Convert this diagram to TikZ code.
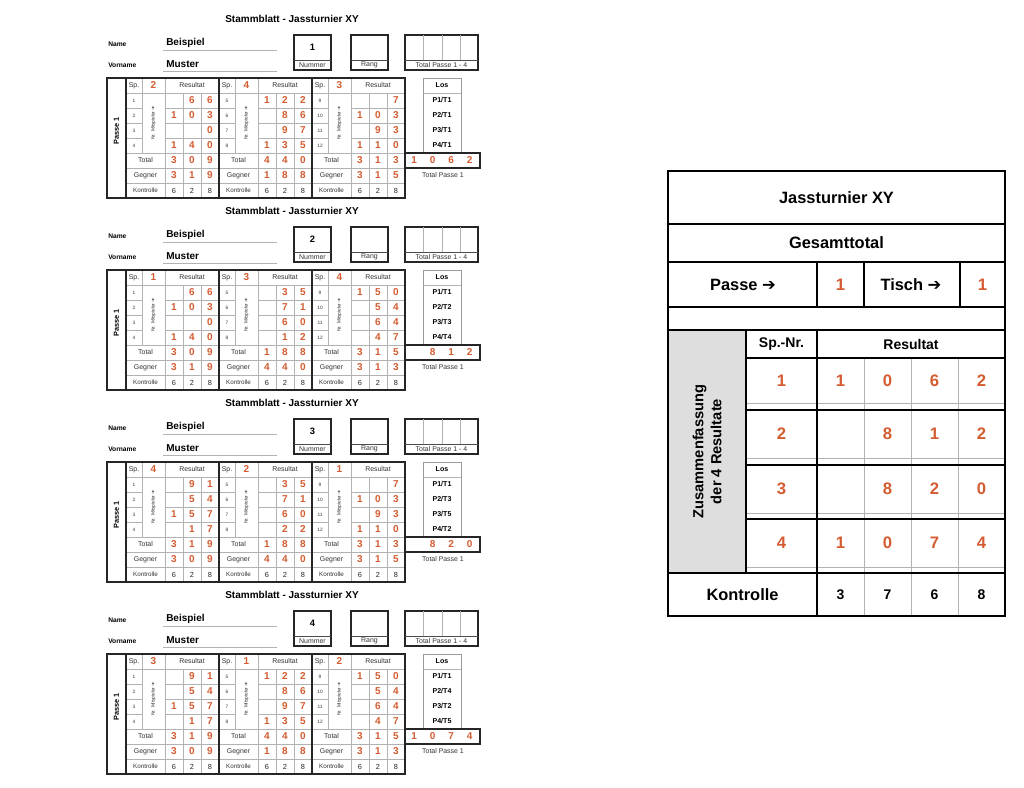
\documentclass[tikz,border=0pt]{standalone}
\usepackage{fontspec}
\setmainfont{Liberation Sans}
\newfontfamily\arrowfont{DejaVu Sans}
\definecolor{jassred}{RGB}{212,92,48}
\definecolor{gridgray}{RGB}{178,178,178}
\definecolor{cellgray}{RGB}{222,222,222}
\newcommand\fs[1]{\fontsize{#1}{#1}\selectfont}
\newcommand\pfeil{{\arrowfont\mdseries ➔}}

\tikzset{
  frame/.style={line width=0.9pt, black!85},
  sub/.style={line width=0.6pt, black!70},
  thinline/.style={line width=0.35pt, gridgray},
  underline/.style={line width=0.4pt, gray!60},
  losbox/.style={line width=0.6pt, gray!80},
  res/.style={inner sep=0pt, text=jassred, font=\bfseries\fs{7.5}},
  kdig/.style={inner sep=0pt, text=black!85, font=\fs{5.5}},
  lbl/.style={inner sep=0pt, text=black!80, font=\fs{5.2}},
  tinylbl/.style={inner sep=0pt, text=black!80, font=\fs{3.6}},
  losl/.style={inner sep=0pt, font=\bfseries\fs{5.3}},
  titel/.style={inner sep=0pt, font=\bfseries\fs{7.5}},
  namelbl/.style={inner sep=0pt, anchor=west, font=\bfseries\fs{5}},
  nameval/.style={inner sep=0pt, anchor=west, font=\bfseries\fs{7.5}},
  nrval/.style={inner sep=0pt, font=\bfseries\fs{7}},
  passel/.style={inner sep=0pt, font=\bfseries\fs{5.5}},
  bigtxt/.style={inner sep=0pt, font=\bfseries\fs{12.3}},
  midtxt/.style={inner sep=0pt, font=\bfseries\fs{10.5}},
  bigres/.style={inner sep=0pt, text=jassred, font=\bfseries\fs{12.5}},
}

% Kopf eines Stammblatts
\newcommand\kopf[4]{%
  \node[titel] (titel#1) at (292,19) {Stammblatt - Jassturnier XY};
  \node[namelbl] (name#1) at (108,44) {Name};
  \node[nameval] (bsp#1) at (166,43) {Beispiel};
  \draw[underline] (163,50) -- (277,50);
  \node[namelbl] (vname#1) at (108,65) {Vorname};
  \node[nameval] (mst#1) at (166,64) {Muster};
  \draw[underline] (163,71) -- (277,71);
  \draw[frame] (294,35) rectangle (331,70);
  \draw[sub] (294,60) -- (331,60);
  \node[nrval] (nr#1) at (312.5,47.5) {#2};
  \node[lbl] (nrl#1) at (312.5,65) {Nummer};
  \draw[frame] (351,35) rectangle (388,70);
  \draw[sub] (351,60) -- (388,60);
  \node[lbl] (rang#1) at (369.5,65) {Rang};
  \draw[frame] (405,35) rectangle (478,70);
  \draw[sub] (405,60) -- (478,60);
  \foreach \x in {423,442,460} \draw[thinline] (\x,35) -- (\x,60);
  \node[lbl] (tpv#1) at (441.5,65) {Total Passe 1 - 4};
  \draw[losbox] (423,78) rectangle (461,153);
  \draw[thinline] (423,93) -- (461,93);
  \node[losl] (los#1) at (442,85.5) {Los};
  \foreach \t [count=\r] in {#3}
    \node[losl] (los#1\r) at (442,85.5+15*\r) {P\r/T\t};
  \foreach \d [count=\i] in {#4}
    \node[res] (tot#1\i) at (395.75+18.5*\i,160.5) {\d};
  \node[lbl] (tpl#1) at (443,175.5) {Total Passe 1};
  \node[passel, rotate=90] (passe#1) at (116.5,131) {Passe 1};
}

% ein Spieler-Abschnitt: Block, Abschnitt, Sp., Zeilen, Total, Gegner
\newcommand\sektion[6]{%
  \pgfmathsetmacro\xo{126+93*#2}
  \draw[thinline] (\xo,93) -- (\xo+93,93)
    (\xo,153) -- (\xo+93,153) (\xo,168) -- (\xo+93,168) (\xo,183) -- (\xo+93,183);
  \foreach \y in {108,123,138}
    \draw[thinline] (\xo,\y) -- (\xo+16,\y) (\xo+39,\y) -- (\xo+93,\y);
  \draw[thinline] (\xo+16,78) -- (\xo+16,153) (\xo+39,78) -- (\xo+39,198)
    (\xo+57,93) -- (\xo+57,198) (\xo+75,93) -- (\xo+75,198);
  \node[lbl] (sp#1#2) at (\xo+8,85.5) {Sp.};
  \node[res] (spn#1#2) at (\xo+27.5,85.5) {#3};
  \node[lbl] (rs#1#2) at (\xo+66,85.5) {Resultat};
  \node[tinylbl, rotate=90] (ms#1#2) at (\xo+27.5,123) {Nr. Mitspieler \pfeil};
  \foreach \row [count=\r] in {#4} {
    \pgfmathtruncatemacro\nr{4*#2+\r}
    \node[tinylbl] (z#1#2\r) at (\xo+8,85.5+15*\r) {\nr};
    \foreach \d [count=\i] in \row
      \node[res] (d#1#2\r\i) at (\xo+30+18*\i,85.5+15*\r) {\d};
  }
  \node[lbl] (tl#1#2) at (\xo+19.5,160.5) {Total};
  \node[lbl] (gl#1#2) at (\xo+19.5,175.5) {Gegner};
  \node[lbl, font=\fs{4.7}] (kl#1#2) at (\xo+19.5,190.5) {Kontrolle};
  \foreach \d [count=\i] in {#5}
    \node[res] (t#1#2\i) at (\xo+30+18*\i,160.5) {\d};
  \foreach \d [count=\i] in {#6}
    \node[res] (g#1#2\i) at (\xo+30+18*\i,175.5) {\d};
  \foreach \d [count=\i] in {6,2,8}
    \node[kdig] (k#1#2\i) at (\xo+30+18*\i,190.5) {\d};
}

\newcommand\rahmen{%
  \draw[frame] (107,78) rectangle (405,198);
  \draw[frame] (126,78) -- (126,198) (219,78) -- (219,198) (312,78) -- (312,198);
  \draw[frame] (405,153) rectangle (480,168);
}

\begin{document}
\begin{tikzpicture}[x=0.75pt, y=-0.75pt]
\fill[white] (0,0) rectangle (1024,788);
\useasboundingbox (0,0) rectangle (1024,788);

\begin{scope}[shift={(0,0)}]
  \kopf{0}{1}{1,1,1,1}{1,0,6,2}
  \sektion{0}{0}{2}{{{},6,6},{1,0,3},{{},{},0},{1,4,0}}{3,0,9}{3,1,9}
  \sektion{0}{1}{4}{{1,2,2},{{},8,6},{{},9,7},{1,3,5}}{4,4,0}{1,8,8}
  \sektion{0}{2}{3}{{{},{},7},{1,0,3},{{},9,3},{1,1,0}}{3,1,3}{3,1,5}
  \rahmen
\end{scope}

\begin{scope}[shift={(0,192)}]
  \kopf{1}{2}{1,2,3,4}{{},8,1,2}
  \sektion{1}{0}{1}{{{},6,6},{1,0,3},{{},{},0},{1,4,0}}{3,0,9}{3,1,9}
  \sektion{1}{1}{3}{{{},3,5},{{},7,1},{{},6,0},{{},1,2}}{1,8,8}{4,4,0}
  \sektion{1}{2}{4}{{1,5,0},{{},5,4},{{},6,4},{{},4,7}}{3,1,5}{3,1,3}
  \rahmen
\end{scope}

\begin{scope}[shift={(0,384)}]
  \kopf{2}{3}{1,3,5,2}{{},8,2,0}
  \sektion{2}{0}{4}{{{},9,1},{{},5,4},{1,5,7},{{},1,7}}{3,1,9}{3,0,9}
  \sektion{2}{1}{2}{{{},3,5},{{},7,1},{{},6,0},{{},2,2}}{1,8,8}{4,4,0}
  \sektion{2}{2}{1}{{{},{},7},{1,0,3},{{},9,3},{1,1,0}}{3,1,3}{3,1,5}
  \rahmen
\end{scope}

\begin{scope}[shift={(0,576)}]
  \kopf{3}{4}{1,4,2,5}{1,0,7,4}
  \sektion{3}{0}{3}{{{},9,1},{{},5,4},{1,5,7},{{},1,7}}{3,1,9}{3,0,9}
  \sektion{3}{1}{1}{{1,2,2},{{},8,6},{{},9,7},{1,3,5}}{4,4,0}{1,8,8}
  \sektion{3}{2}{2}{{1,5,0},{{},5,4},{{},6,4},{{},4,7}}{3,1,5}{3,1,3}
  \rahmen
\end{scope}

% Gesamttotal
\fill[cellgray] (668,330) rectangle (746,573);
\foreach \y in {403,458,513,567} \draw[thinline, line width=0.6pt] (746,\y) -- (1005,\y);
\foreach \x in {864,911,958} \draw[thinline, line width=0.6pt] (\x,358) -- (\x,616);
\draw[line width=1.4pt] (668,224) -- (1005,224) (668,262) -- (1005,262)
  (668,307) -- (1005,307) (668,330) -- (1005,330) (668,573) -- (1005,573);
\draw[line width=1.4pt] (746,358) -- (1005,358) (746,410) -- (1005,410)
  (746,465) -- (1005,465) (746,519) -- (1005,519);
\draw[line width=1.4pt] (746,330) -- (746,573) (817,330) -- (817,616);
\draw[line width=1.4pt] (817,262) rectangle (864,307) (960,262) -- (960,307);
\draw[line width=1.8pt] (668,171) rectangle (1005,616);

\node[bigtxt] (jt) at (836.5,197.5) {Jassturnier XY};
\node[bigtxt] (gt) at (836.5,243) {Gesamttotal};
\node[bigtxt] (pl) at (743,284.5) {Passe \pfeil};
\node[bigres] (pn) at (840.5,284.5) {1};
\node[bigtxt] (tl) at (911,284.5) {Tisch \pfeil};
\node[bigres] (tn) at (982.5,284.5) {1};
\node[midtxt] (spnr) at (781.5,344) {Sp.-Nr.};
\node[midtxt] (resh) at (911,344) {Resultat};
\node[bigtxt, rotate=90, align=center, font=\bfseries\fontsize{11}{13.5}\selectfont] (zus)
  at (707,451.5) {Zusammenfassung\\der 4 Resultate};
\foreach \y/\row [count=\r] in {380.5/{1,0,6,2}, 434/{{},8,1,2}, 489/{{},8,2,0}, 543/{1,0,7,4}} {
  \node[bigres] (s\r) at (781.5,\y) {\r};
  \foreach \d [count=\i] in \row
    \node[bigres] (r\r\i) at (793.5+47*\i,\y) {\d};
}
\node[bigtxt] (ktl) at (742.5,594.5) {Kontrolle};
\foreach \d [count=\i] in {3,7,6,8}
  \node[midtxt] (kd\i) at (793.5+47*\i,594.5) {\d};
\end{tikzpicture}
\end{document}
